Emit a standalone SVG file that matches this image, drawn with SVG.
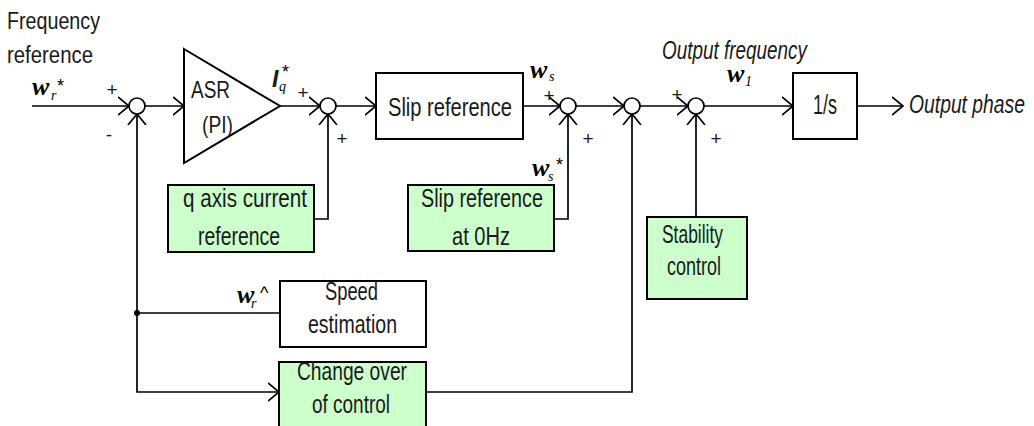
<svg xmlns="http://www.w3.org/2000/svg" width="1034" height="426" viewBox="0 0 1034 426">
<style>
.ln{fill:none;stroke:#000;stroke-width:1.7}
.bx{fill:#fff;stroke:#000;stroke-width:2}
.gb{fill:#ccffcc;stroke:#000;stroke-width:2}
.sj{fill:#fff;stroke:#000;stroke-width:1.7}
.t{font-family:"Liberation Sans",Arial,sans-serif;fill:#1a1a1a}
.it{font-style:italic}
.pm{font-family:"Liberation Sans",Arial,sans-serif;font-size:19px;fill:#1a1a1a;text-anchor:middle}
.w{font-family:"Liberation Serif","Times New Roman",serif;font-weight:bold;font-style:italic;font-size:26px;fill:#000}
.sub{font-family:"Liberation Serif","Times New Roman",serif;font-style:italic;font-size:14px;fill:#000}
.st{font-family:"Liberation Sans",Arial,sans-serif;font-size:18px;fill:#000}
</style>
<defs>
<marker id="arr" viewBox="0 0 12 20" refX="11" refY="10" markerWidth="12" markerHeight="20" markerUnits="userSpaceOnUse" orient="auto">
<path d="M0,1 L11,10 L0,19" fill="none" stroke="#000" stroke-width="1.7"/>
</marker>
</defs>

<g id="labels">
<text class="t" x="7" y="29" font-size="23" textLength="93" lengthAdjust="spacingAndGlyphs">Frequency</text>
<text class="t" x="7" y="63" font-size="23" textLength="86" lengthAdjust="spacingAndGlyphs">reference</text>
<text class="w" x="32" y="95">w</text><text class="sub" x="51" y="100">r</text><text class="st" x="57" y="92">*</text>
<text class="pm" x="112" y="96">+</text>
<text class="pm" x="109" y="141">-</text>
<text class="t" x="272" y="87" font-size="23" font-family="Liberation Serif" font-style="italic" font-weight="bold">I</text><text class="sub" x="279" y="91">q</text><text class="st" x="282" y="78">*</text>
<text class="pm" x="303" y="99">+</text>
<text class="pm" x="342" y="145">+</text>
<text class="w" x="530" y="78">w</text><text class="sub" x="549" y="81">s</text>
<text class="pm" x="549" y="102">+</text>
<text class="pm" x="588" y="145">+</text>
<text class="w" x="532" y="176">w</text><text class="sub" x="548" y="181">s</text><text class="st" x="556" y="171">*</text>
<text class="t it" x="662" y="59" font-size="25" textLength="145" lengthAdjust="spacingAndGlyphs">Output frequency</text>
<text class="w" x="727" y="82">w</text><text class="sub" x="745" y="86">1</text>
<text class="pm" x="677" y="101">+</text>
<text class="pm" x="716" y="145">+</text>
<text class="t it" x="909" y="113" font-size="25" textLength="116" lengthAdjust="spacingAndGlyphs">Output phase</text>
<text class="w" x="237" y="303">w</text><text class="sub" x="251" y="308">r</text><text class="st" x="260" y="299">^</text>
</g>

<g id="connectors">
<path class="ln" d="M32,106 H129" marker-end="url(#arr)"/>
<path class="ln" d="M145,106 H184" marker-end="url(#arr)"/>
<path class="ln" d="M280,106 H320" marker-end="url(#arr)"/>
<path class="ln" d="M336,106 H376" marker-end="url(#arr)"/>
<path class="ln" d="M523,106 H560" marker-end="url(#arr)"/>
<path class="ln" d="M576,106 H624" marker-end="url(#arr)"/>
<path class="ln" d="M640,106 H688" marker-end="url(#arr)"/>
<path class="ln" d="M704,106 H793" marker-end="url(#arr)"/>
<path class="ln" d="M857,106 H903" marker-end="url(#arr)"/>
<path class="ln" d="M280,313 H137"/>
<path class="ln" d="M137,313 V114" marker-end="url(#arr)"/>
<path class="ln" d="M137,313 V392 H279" marker-end="url(#arr)"/>
<circle cx="137" cy="313" r="3" fill="#000"/>
<path class="ln" d="M314,219 H328 V114" marker-end="url(#arr)"/>
<path class="ln" d="M554,219 H568 V114" marker-end="url(#arr)"/>
<path class="ln" d="M426,392 H632 V114" marker-end="url(#arr)"/>
<path class="ln" d="M696,217 V114" marker-end="url(#arr)"/>
</g>

<g id="sum1"><circle class="sj" cx="137" cy="106" r="8"/></g>
<g id="sum2"><circle class="sj" cx="328" cy="106" r="8"/></g>
<g id="sum3"><circle class="sj" cx="568" cy="106" r="8"/></g>
<g id="sum4"><circle class="sj" cx="632" cy="106" r="8"/></g>
<g id="sum5"><circle class="sj" cx="696" cy="106" r="8"/></g>

<g id="asr">
<path class="bx" d="M184,49 L280,106 L184,163 Z"/>
<text class="t" x="191" y="98" font-size="24" textLength="39" lengthAdjust="spacingAndGlyphs">ASR</text>
<text class="t" x="202" y="133" font-size="24" textLength="31" lengthAdjust="spacingAndGlyphs">(PI)</text>
</g>

<g id="slipref">
<rect class="bx" x="376" y="73" width="147" height="66"/>
<text class="t" x="388" y="116" font-size="26" textLength="124" lengthAdjust="spacingAndGlyphs">Slip reference</text>
</g>

<g id="integrator">
<rect class="bx" x="793" y="73" width="64" height="66"/>
<text class="t" x="813" y="114" font-size="28" textLength="24" lengthAdjust="spacingAndGlyphs">1/s</text>
</g>

<g id="qaxis">
<rect class="gb" x="168" y="185" width="146" height="67"/>
<text class="t" x="183" y="207" font-size="26" textLength="124" lengthAdjust="spacingAndGlyphs">q axis current</text>
<text class="t" x="198" y="245" font-size="26" textLength="82" lengthAdjust="spacingAndGlyphs">reference</text>
</g>

<g id="slip0">
<rect class="gb" x="408" y="185" width="146" height="66"/>
<text class="t" x="421" y="207" font-size="26" textLength="122" lengthAdjust="spacingAndGlyphs">Slip reference</text>
<text class="t" x="452" y="245" font-size="26" textLength="58" lengthAdjust="spacingAndGlyphs">at 0Hz</text>
</g>

<g id="stability">
<rect class="gb" x="647" y="217" width="100" height="82"/>
<text class="t" x="662" y="243" font-size="26" textLength="61" lengthAdjust="spacingAndGlyphs">Stability</text>
<text class="t" x="667" y="275" font-size="26" textLength="54" lengthAdjust="spacingAndGlyphs">control</text>
</g>

<g id="speedest">
<rect class="bx" x="280" y="281" width="146" height="66"/>
<text class="t" x="325" y="300" font-size="26" textLength="53" lengthAdjust="spacingAndGlyphs">Speed</text>
<text class="t" x="308" y="333" font-size="26" textLength="89" lengthAdjust="spacingAndGlyphs">estimation</text>
</g>

<g id="changeover">
<rect class="gb" x="279" y="362" width="147" height="80"/>
<text class="t" x="297" y="380" font-size="26" textLength="110" lengthAdjust="spacingAndGlyphs">Change over</text>
<text class="t" x="312" y="413" font-size="26" textLength="78" lengthAdjust="spacingAndGlyphs">of control</text>
</g>
</svg>
